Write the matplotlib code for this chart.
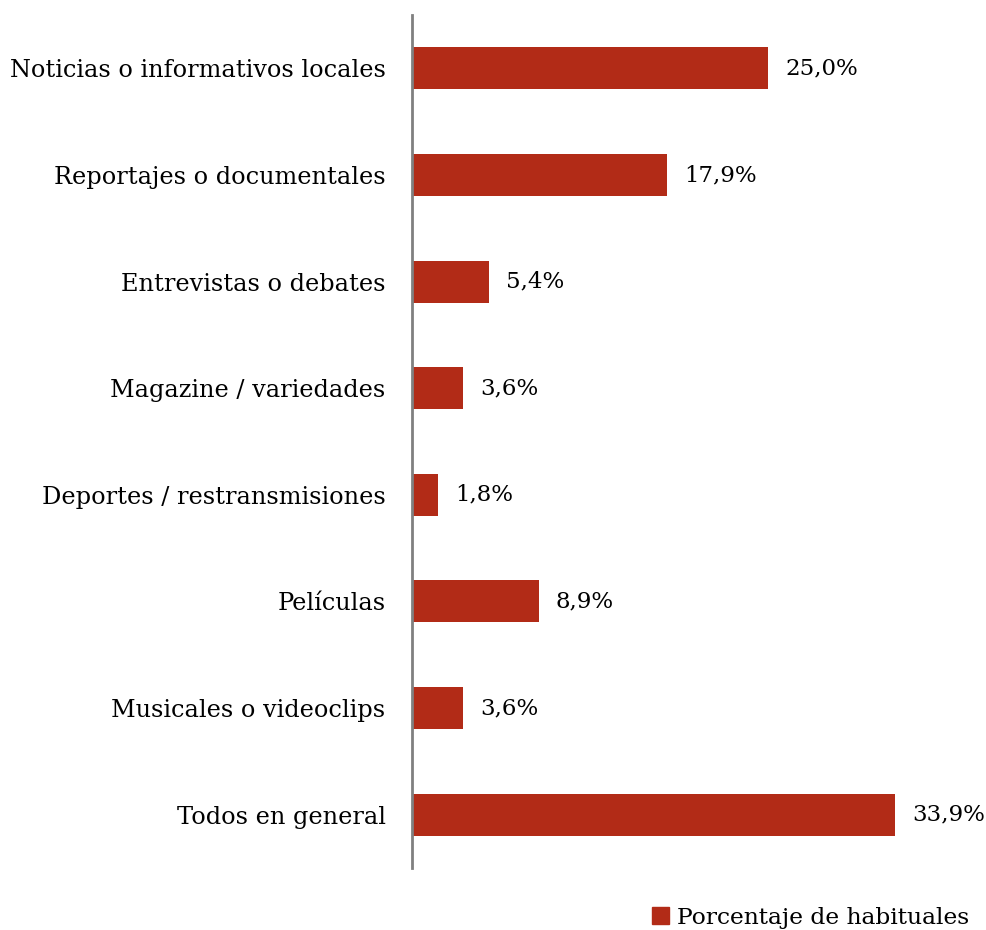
import matplotlib.pyplot as plt
from matplotlib.patches import Patch

plt.rcParams['font.family'] = ['DejaVu Serif']

categorias = ['Noticias o informativos locales', 'Reportajes o documentales',
              'Entrevistas o debates', 'Magazine / variedades',
              'Deportes / restransmisiones', 'Películas',
              'Musicales o videoclips', 'Todos en general']
porcentajes = [25.0, 17.9, 5.4, 3.6, 1.8, 8.9, 3.6, 33.9]
serie = 'Porcentaje de habituales'
color = '#B22B17'

fig = plt.figure(figsize=(9.87, 9.30), dpi=100)
ax = fig.add_axes([412/987, 62/930, 570/987, 853/930])

y = list(range(len(categorias)))
ax.barh(y, porcentajes, height=0.395, color=color)
ax.set_ylim(len(categorias) - 0.5, -0.5)
ax.set_xlim(0, 40)

for yi, v in zip(y, porcentajes):
    ax.text(v + 1.2, yi, f'{v:.1f}%'.replace('.', ','), va='center', ha='left', fontsize=16.5)

ax.set_yticks(y)
ax.set_yticklabels(categorias, fontsize=17.3)
ax.tick_params(axis='y', length=0, pad=19)
ax.set_xticks([])
for s in ['top', 'right', 'bottom']:
    ax.spines[s].set_visible(False)
ax.spines['left'].set_color('#808080')
ax.spines['left'].set_linewidth(2)

fig.legend(handles=[Patch(color=color, label=serie)], loc='lower right',
           bbox_to_anchor=(1.003, -0.021), frameon=False, fontsize=16.8,
           handlelength=0.7, handleheight=0.7, handletextpad=0.35)

fig.savefig('out.png', dpi=100)
